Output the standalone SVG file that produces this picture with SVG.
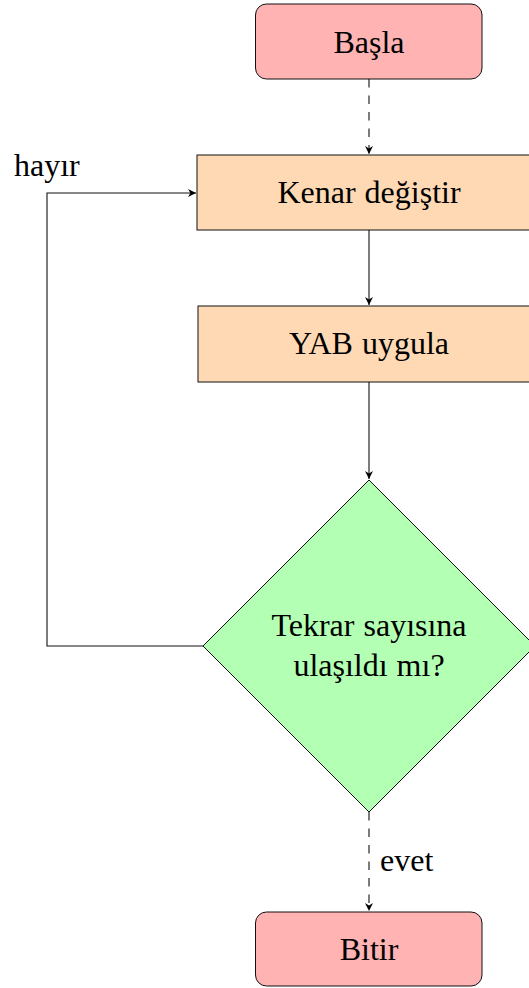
<svg xmlns="http://www.w3.org/2000/svg" width="529" height="988" viewBox="0 0 529 988">
  <style>
    .term { fill: #ffb3b3; stroke: #111; stroke-width: 1; }
    .proc { fill: #ffd9b3; stroke: #111; stroke-width: 1; }
    .dec { fill: #b3ffb3; stroke: #111; stroke-width: 1; }
    .lbl { font-family: "Liberation Serif", "Times New Roman", serif; font-size: 32px; word-spacing: 1px; fill: #000; text-anchor: middle; }
    .side { font-family: "Liberation Serif", "Times New Roman", serif; font-size: 32px; fill: #000; }
    .edge { fill: none; stroke: #111; stroke-width: 1.1; }
    .dash { stroke-dasharray: 8.5 8; }
  </style>
  <defs>
    <marker id="arrow" viewBox="0 0 10 10" refX="10" refY="5" markerWidth="8" markerHeight="8" markerUnits="userSpaceOnUse" orient="auto">
      <path d="M0,0 L10,5 L0,10 L3,5 Z" fill="#000"/>
    </marker>
  </defs>

  <g id="connectors">
    <path class="edge dash" d="M369,79 V154" marker-end="url(#arrow)"/>
    <path class="edge" d="M369,230 V305" marker-end="url(#arrow)"/>
    <path class="edge" d="M369,382 V479" marker-end="url(#arrow)"/>
    <path class="edge" d="M203,646 H47 V193 H196" marker-end="url(#arrow)"/>
    <path class="edge dash" d="M369,812 V911" marker-end="url(#arrow)"/>
    <text class="side" x="14" y="176">hayır</text>
    <text class="side" x="380" y="871">evet</text>
  </g>

  <g id="start">
    <rect class="term" x="255.5" y="4" width="226.5" height="75" rx="11"/>
    <text class="lbl" x="369" y="53">Başla</text>
  </g>

  <g id="swap-edge">
    <rect class="proc" x="197" y="155" width="344" height="75"/>
    <text class="lbl" x="369" y="203">Kenar değiştir</text>
  </g>

  <g id="apply">
    <rect class="proc" x="198" y="306" width="343" height="76"/>
    <text class="lbl" x="369" y="354">YAB uygula</text>
  </g>

  <g id="check">
    <polygon class="dec" points="369,480 535,646 369,812 203,646"/>
    <text class="lbl" x="369" y="636">Tekrar sayısına</text>
    <text class="lbl" x="369" y="676">ulaşıldı mı?</text>
  </g>

  <g id="end">
    <rect class="term" x="255.5" y="912" width="226.5" height="74" rx="11"/>
    <text class="lbl" x="369" y="960">Bitir</text>
  </g>
</svg>
